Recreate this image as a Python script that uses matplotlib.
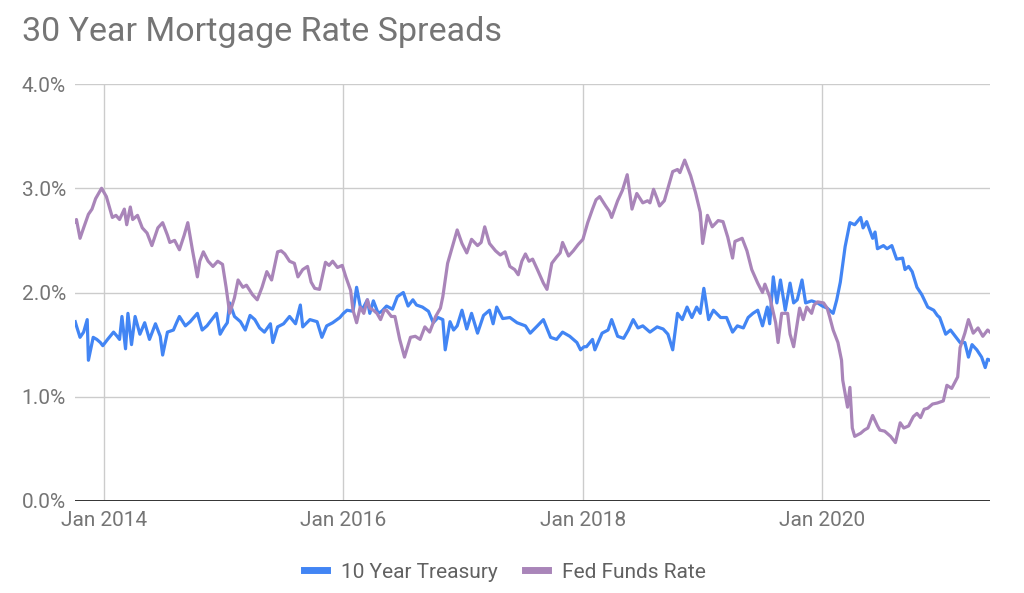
import numpy as np
import pandas as pd
import matplotlib
matplotlib.use('Agg')
import matplotlib.pyplot as plt
import matplotlib.dates as mdates
from matplotlib.lines import Line2D
from matplotlib.ticker import FuncFormatter

# 30 year mortgage minus 10 year treasury (decimal year, %)
tsy_years = [2013.76, 2013.77, 2013.80, 2013.83, 2013.86, 2013.87, 2013.91, 2013.94, 2013.97, 2013.99,
             2014.03, 2014.08, 2014.11, 2014.13, 2014.15, 2014.18, 2014.20, 2014.23, 2014.26, 2014.30,
             2014.34, 2014.38, 2014.43, 2014.47, 2014.49, 2014.53, 2014.58, 2014.61, 2014.63, 2014.68,
             2014.72, 2014.78, 2014.82, 2014.86, 2014.90, 2014.94, 2014.97, 2015.00, 2015.03, 2015.05,
             2015.09, 2015.14, 2015.18, 2015.22, 2015.26, 2015.30, 2015.34, 2015.39, 2015.41, 2015.45,
             2015.50, 2015.55, 2015.60, 2015.64, 2015.66, 2015.72, 2015.78, 2015.82, 2015.86, 2015.91,
             2015.97, 2016.00, 2016.03, 2016.08, 2016.11, 2016.14, 2016.16, 2016.20, 2016.22, 2016.25,
             2016.29, 2016.32, 2016.36, 2016.41, 2016.45, 2016.50, 2016.54, 2016.58, 2016.61, 2016.66,
             2016.71, 2016.75, 2016.79, 2016.83, 2016.85, 2016.89, 2016.92, 2016.95, 2016.99, 2017.03,
             2017.07, 2017.12, 2017.17, 2017.22, 2017.25, 2017.28, 2017.33, 2017.39, 2017.45, 2017.52,
             2017.56, 2017.62, 2017.67, 2017.73, 2017.78, 2017.83, 2017.89, 2017.95, 2017.98, 2018.01,
             2018.03, 2018.08, 2018.10, 2018.16, 2018.21, 2018.24, 2018.29, 2018.34, 2018.38, 2018.42,
             2018.46, 2018.50, 2018.56, 2018.62, 2018.67, 2018.71, 2018.75, 2018.79, 2018.83, 2018.87,
             2018.91, 2018.95, 2018.98, 2019.01, 2019.05, 2019.09, 2019.15, 2019.20, 2019.25, 2019.29,
             2019.34, 2019.38, 2019.42, 2019.46, 2019.50, 2019.54, 2019.56, 2019.59, 2019.62, 2019.65,
             2019.69, 2019.73, 2019.76, 2019.79, 2019.83, 2019.86, 2019.91, 2019.96, 2020.00, 2020.04,
             2020.09, 2020.12, 2020.15, 2020.19, 2020.23, 2020.27, 2020.32, 2020.34, 2020.37, 2020.42,
             2020.44, 2020.46, 2020.51, 2020.54, 2020.58, 2020.62, 2020.67, 2020.69, 2020.72, 2020.75,
             2020.79, 2020.83, 2020.88, 2020.93, 2020.96, 2020.98, 2021.03, 2021.07, 2021.11, 2021.15,
             2021.19, 2021.22, 2021.25, 2021.29, 2021.33, 2021.36, 2021.38, 2021.40]
tsy_spread = [1.72, 1.68, 1.57, 1.62, 1.74, 1.35, 1.57, 1.55, 1.52, 1.49,
              1.55, 1.62, 1.58, 1.55, 1.77, 1.46, 1.80, 1.50, 1.77, 1.60,
              1.71, 1.55, 1.70, 1.58, 1.40, 1.62, 1.64, 1.72, 1.77, 1.68,
              1.72, 1.80, 1.64, 1.68, 1.74, 1.80, 1.60, 1.66, 1.71, 1.90,
              1.77, 1.72, 1.64, 1.78, 1.74, 1.66, 1.62, 1.70, 1.52, 1.67,
              1.70, 1.77, 1.70, 1.88, 1.67, 1.74, 1.72, 1.57, 1.68, 1.71,
              1.76, 1.80, 1.83, 1.82, 2.05, 1.87, 1.84, 1.93, 1.80, 1.92,
              1.80, 1.82, 1.87, 1.84, 1.96, 2.00, 1.87, 1.93, 1.88, 1.86,
              1.82, 1.71, 1.76, 1.74, 1.45, 1.72, 1.64, 1.68, 1.83, 1.65,
              1.80, 1.61, 1.78, 1.83, 1.70, 1.86, 1.75, 1.76, 1.71, 1.68,
              1.61, 1.68, 1.74, 1.57, 1.55, 1.62, 1.58, 1.52, 1.45, 1.48,
              1.48, 1.55, 1.45, 1.61, 1.64, 1.74, 1.58, 1.56, 1.64, 1.74,
              1.66, 1.68, 1.62, 1.67, 1.65, 1.60, 1.45, 1.80, 1.74, 1.86,
              1.76, 1.86, 1.80, 2.04, 1.74, 1.83, 1.76, 1.76, 1.62, 1.68,
              1.66, 1.76, 1.80, 1.83, 1.68, 1.86, 1.70, 2.15, 1.90, 2.12,
              1.83, 2.09, 1.90, 1.93, 2.12, 1.90, 1.92, 1.90, 1.87, 1.85,
              1.80, 1.93, 2.10, 2.44, 2.67, 2.65, 2.72, 2.62, 2.68, 2.52,
              2.58, 2.42, 2.45, 2.42, 2.45, 2.32, 2.33, 2.22, 2.25, 2.20,
              2.05, 1.98, 1.86, 1.83, 1.78, 1.76, 1.60, 1.64, 1.58, 1.52,
              1.52, 1.38, 1.50, 1.45, 1.38, 1.28, 1.36, 1.35]

# 30 year mortgage minus fed funds rate
ffr_years = [2013.76, 2013.77, 2013.80, 2013.83, 2013.87, 2013.90, 2013.93, 2013.98, 2014.02, 2014.07,
             2014.10, 2014.13, 2014.17, 2014.19, 2014.22, 2014.24, 2014.28, 2014.32, 2014.36, 2014.40,
             2014.45, 2014.49, 2014.53, 2014.55, 2014.59, 2014.63, 2014.67, 2014.70, 2014.74, 2014.78,
             2014.80, 2014.83, 2014.87, 2014.91, 2014.95, 2014.99, 2015.02, 2015.05, 2015.09, 2015.12,
             2015.16, 2015.19, 2015.24, 2015.28, 2015.32, 2015.36, 2015.40, 2015.45, 2015.48, 2015.51,
             2015.55, 2015.59, 2015.62, 2015.66, 2015.70, 2015.73, 2015.76, 2015.80, 2015.85, 2015.88,
             2015.91, 2015.95, 2015.99, 2016.02, 2016.06, 2016.08, 2016.11, 2016.14, 2016.17, 2016.20,
             2016.22, 2016.25, 2016.28, 2016.31, 2016.34, 2016.36, 2016.40, 2016.43, 2016.47, 2016.51,
             2016.56, 2016.60, 2016.64, 2016.68, 2016.72, 2016.77, 2016.81, 2016.83, 2016.87, 2016.91,
             2016.95, 2016.99, 2017.03, 2017.07, 2017.12, 2017.15, 2017.18, 2017.22, 2017.27, 2017.31,
             2017.35, 2017.39, 2017.43, 2017.46, 2017.49, 2017.52, 2017.55, 2017.58, 2017.62, 2017.67,
             2017.70, 2017.74, 2017.78, 2017.81, 2017.83, 2017.88, 2017.92, 2017.96, 2018.00, 2018.04,
             2018.08, 2018.11, 2018.14, 2018.19, 2018.22, 2018.24, 2018.29, 2018.33, 2018.37, 2018.41,
             2018.45, 2018.50, 2018.54, 2018.56, 2018.59, 2018.62, 2018.64, 2018.68, 2018.70, 2018.75,
             2018.79, 2018.81, 2018.85, 2018.90, 2018.94, 2018.98, 2019.00, 2019.04, 2019.08, 2019.13,
             2019.17, 2019.21, 2019.25, 2019.27, 2019.33, 2019.37, 2019.41, 2019.46, 2019.50, 2019.52,
             2019.56, 2019.61, 2019.63, 2019.66, 2019.71, 2019.73, 2019.76, 2019.79, 2019.81, 2019.84,
             2019.87, 2019.91, 2019.93, 2019.96, 2020.01, 2020.04, 2020.06, 2020.09, 2020.13, 2020.16,
             2020.17, 2020.21, 2020.23, 2020.25, 2020.27, 2020.32, 2020.35, 2020.38, 2020.42, 2020.46,
             2020.48, 2020.52, 2020.57, 2020.61, 2020.65, 2020.68, 2020.72, 2020.76, 2020.79, 2020.82,
             2020.85, 2020.88, 2020.92, 2020.96, 2021.01, 2021.04, 2021.08, 2021.13, 2021.15, 2021.19,
             2021.22, 2021.26, 2021.30, 2021.34, 2021.38, 2021.40]
ffr_spread = [2.68, 2.70, 2.52, 2.62, 2.75, 2.80, 2.90, 3.00, 2.92, 2.72,
              2.74, 2.70, 2.80, 2.65, 2.82, 2.70, 2.74, 2.62, 2.57, 2.45,
              2.62, 2.67, 2.55, 2.48, 2.50, 2.41, 2.55, 2.67, 2.40, 2.15,
              2.30, 2.39, 2.30, 2.25, 2.30, 2.27, 2.05, 1.80, 1.95, 2.12,
              2.05, 2.07, 1.98, 1.93, 2.05, 2.20, 2.12, 2.39, 2.40, 2.37,
              2.30, 2.28, 2.15, 2.22, 2.25, 2.10, 2.04, 2.03, 2.29, 2.26,
              2.30, 2.24, 2.26, 2.15, 2.02, 1.83, 1.71, 1.86, 1.80, 1.93,
              1.85, 1.83, 1.80, 1.74, 1.83, 1.83, 1.77, 1.77, 1.55, 1.38,
              1.57, 1.58, 1.55, 1.67, 1.62, 1.77, 1.85, 1.96, 2.28, 2.44,
              2.60, 2.47, 2.38, 2.51, 2.45, 2.48, 2.63, 2.47, 2.40, 2.36,
              2.39, 2.25, 2.22, 2.17, 2.30, 2.37, 2.30, 2.32, 2.22, 2.09,
              2.03, 2.28, 2.34, 2.38, 2.48, 2.35, 2.40, 2.46, 2.51, 2.67,
              2.80, 2.89, 2.92, 2.83, 2.78, 2.72, 2.88, 2.98, 3.13, 2.80,
              2.95, 2.86, 2.88, 2.86, 2.99, 2.90, 2.83, 2.88, 2.96, 3.16,
              3.18, 3.15, 3.27, 3.12, 2.96, 2.77, 2.47, 2.74, 2.63, 2.69,
              2.68, 2.53, 2.33, 2.49, 2.52, 2.40, 2.22, 2.09, 2.00, 2.08,
              1.96, 1.71, 1.52, 1.80, 1.80, 1.60, 1.48, 1.70, 1.85, 1.74,
              1.86, 1.80, 1.88, 1.91, 1.90, 1.85, 1.77, 1.64, 1.52, 1.35,
              1.16, 0.90, 1.09, 0.70, 0.62, 0.65, 0.68, 0.70, 0.82, 0.72,
              0.68, 0.67, 0.62, 0.56, 0.75, 0.70, 0.72, 0.81, 0.84, 0.80,
              0.88, 0.89, 0.93, 0.94, 0.96, 1.11, 1.08, 1.19, 1.47, 1.61,
              1.74, 1.61, 1.66, 1.58, 1.64, 1.62]

tick_years = [2014, 2016, 2018, 2020]
y_ticks = [0, 1, 2, 3, 4]


def to_dates(years):
    years = np.array(years)
    return pd.Timestamp('2014-01-01') + pd.to_timedelta((years - 2014) * 365.25, unit='D')


blue = '#4285f4'
purple = '#a985b9'
grey_txt = '#757575'

plt.rcParams['font.family'] = ['Roboto', 'DejaVu Sans']

fig = plt.figure(figsize=(10.24, 5.93), dpi=100)
ax = fig.add_axes([75 / 1024, 92 / 593, 915 / 1024, 417 / 593])

ax.plot(to_dates(tsy_years), tsy_spread, color=blue, lw=2.3, zorder=3,
        solid_joinstyle='round')
ax.plot(to_dates(ffr_years), ffr_spread, color=purple, lw=2.3, zorder=3,
        solid_joinstyle='round')

ax.set_ylim(0, 4)
ax.set_xlim(to_dates([2013.758])[0], to_dates([2021.40])[0])
ax.set_yticks(y_ticks)
ax.yaxis.set_major_formatter(FuncFormatter(lambda v, p: '%.1f%%' % v))
ax.set_xticks([pd.Timestamp('%d-01-01' % y) for y in tick_years])
ax.xaxis.set_major_formatter(mdates.DateFormatter('Jan %Y'))

ax.grid(True, color='#cccccc', lw=1.0, zorder=0)
ax.axhline(0, color='#333333', lw=1.4, zorder=4)
for s in ax.spines.values():
    s.set_visible(False)
ax.tick_params(axis='both', length=0, colors=grey_txt, labelsize=15)
ax.tick_params(axis='y', pad=6.5)
ax.tick_params(axis='x', pad=7)

fig.text(22 / 1024, 1 - 32 / 593, '30 Year Mortgage Rate Spreads', fontsize=24.5,
         color=grey_txt, va='center', ha='left')

handles = [Line2D([0], [0], color=blue, lw=5), Line2D([0], [0], color=purple, lw=5)]
fig.legend(handles, ['10 Year Treasury', 'Fed Funds Rate'], loc='center',
           bbox_to_anchor=(505 / 1024, 1 - 572 / 593), ncol=2, frameon=False,
           fontsize=15, labelcolor='#616161', handlelength=1.1, handletextpad=0.7,
           columnspacing=1.3)

fig.savefig('out.png', dpi=100)
